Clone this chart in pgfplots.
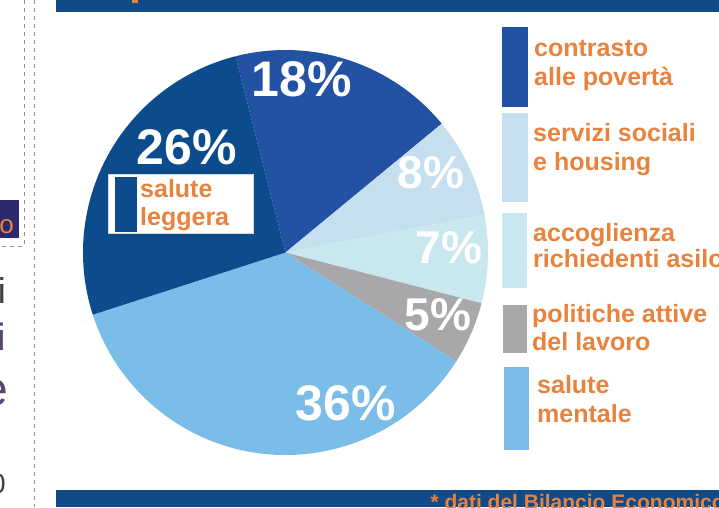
\documentclass[border=0pt]{standalone}
\usepackage{fontspec}
\setmainfont{Liberation Sans}
\usepackage{pgfplots}
\usepackage{pgfplotstable}
\pgfplotsset{compat=1.18}

\definecolor{barnavy}{HTML}{104A88}
\definecolor{c18}{HTML}{2352A5}
\definecolor{c8}{HTML}{C5DFEE}
\definecolor{c7}{HTML}{C9E7EF}
\definecolor{c5}{HTML}{A8A8AA}
\definecolor{c36}{HTML}{7BBDE9}
\definecolor{c26}{HTML}{0C4C8C}
\definecolor{txtor}{HTML}{E8823C}
\definecolor{boxnavy}{HTML}{2B2A6E}
\definecolor{purp}{HTML}{5A4672}
\definecolor{dashgr}{HTML}{8C8C8C}

% percentages, clockwise from the top
\pgfplotstableread{
pct col
18 c18
8 c8
7 c7
5 c5
36 c36
26 c26
}\piedata

\begin{document}
\begin{tikzpicture}
\useasboundingbox (0,0) rectangle (719pt,507pt);
\clip (0,0) rectangle (719pt,507pt);
\begin{axis}[hide axis, scale only axis, width=719pt, height=507pt,
  xmin=0, xmax=719, ymin=0, ymax=507, y dir=reverse, clip=false]

% header / footer bars
\fill[barnavy] (axis cs:56,0) rectangle (axis cs:719,12);
\fill[txtor] (axis cs:132,0) rectangle (axis cs:138,3);
\fill[barnavy] (axis cs:56,490) rectangle (axis cs:719,507);
\node[anchor=base west, text=txtor, font=\fontsize{21}{24}\selectfont\bfseries]
  at (axis cs:427,509) {* dati del Bilancio Economico};

% left page fragments
\draw[dashgr, dash pattern=on 4pt off 4pt] (axis cs:24,0) -- (axis cs:24,246) -- (axis cs:0,246);
\draw[dashgr, dash pattern=on 4pt off 4pt] (axis cs:34,0) -- (axis cs:34,507);
\fill[boxnavy] (axis cs:0,200) rectangle (axis cs:19,238);
\node[anchor=base east, inner sep=0pt, text=txtor, font=\fontsize{26}{28}\selectfont] at (axis cs:14,233) {o};
\node[anchor=base east, inner sep=0pt, text=black!75, font=\fontsize{36}{40}\selectfont] at (axis cs:6,303) {i};
\node[anchor=base east, inner sep=0pt, text=purp, font=\fontsize{38}{40}\selectfont] at (axis cs:6,350) {i};
\node[anchor=base east, inner sep=0pt, text=purp, font=\fontsize{48}{50}\selectfont] at (axis cs:8,405) {e};
\node[anchor=base east, inner sep=0pt, text=black!75, font=\fontsize{28}{32}\selectfont] at (axis cs:6,493) {0};

% pie
\pgfplotsextra{
  \xdef\curang{104.3}
  \pgfplotstablegetrowsof{\piedata}
  \pgfmathtruncatemacro\nr{\pgfplotsretval-1}
  \foreach \i in {0,...,\nr}{
    \pgfplotstablegetelem{\i}{pct}\of\piedata
    \pgfmathsetmacro\pctval{\pgfplotsretval}
    \pgfplotstablegetelem{\i}{col}\of\piedata
    \edef\slicecol{\pgfplotsretval}
    \pgfmathsetmacro\endang{\curang-3.6*\pctval}
    \fill[color=\slicecol] (axis cs:285.5,252.5) -- ++(\curang:202.5pt)
      arc[start angle=\curang, end angle=\endang, radius=202.5pt] -- cycle;
    \xdef\curang{\endang}
  }
}

% slice labels
\tikzset{pl/.style={anchor=base, inner sep=0pt, text=white, font=\fontsize{#1}{#1}\selectfont\bfseries}}
\node[pl=50] at (axis cs:301.5,96) {18\%};
\node[pl=50] at (axis cs:187,164) {26\%};
\node[pl=46] at (axis cs:431,188) {8\%};
\node[pl=46] at (axis cs:449,263) {7\%};
\node[pl=46] at (axis cs:438,330) {5\%};
\node[pl=50] at (axis cs:346,420) {36\%};

% inner label box
\fill[white] (axis cs:108,174) rectangle (axis cs:253,233);
\draw[black!15] (axis cs:108,174) rectangle (axis cs:253,233);
\fill[c26] (axis cs:115,177) rectangle (axis cs:137,232);
\tikzset{lt/.style={anchor=base west, inner sep=0pt, text=txtor, font=\fontsize{25}{28}\selectfont\bfseries}}
\node[lt] at (axis cs:140,197) {salute};
\node[lt] at (axis cs:140,225) {leggera};

% legend
\fill[c18] (axis cs:502,27) rectangle (axis cs:528,107);
\fill[c8] (axis cs:502,113) rectangle (axis cs:528,202);
\fill[c7] (axis cs:502,213) rectangle (axis cs:527,288);
\fill[c5] (axis cs:503,305) rectangle (axis cs:527,353);
\fill[c36] (axis cs:504,367) rectangle (axis cs:529,450);
\node[lt] at (axis cs:534,56) {contrasto};
\node[lt] at (axis cs:534,85) {alle povertà};
\node[lt] at (axis cs:533,141) {servizi sociali};
\node[lt] at (axis cs:533,170) {e housing};
\node[lt] at (axis cs:533,241) {accoglienza};
\node[lt] at (axis cs:533,267) {richiedenti asilo};
\node[lt] at (axis cs:532,322) {politiche attive};
\node[lt] at (axis cs:532,350) {del lavoro};
\node[lt] at (axis cs:537,393) {salute};
\node[lt] at (axis cs:537,422) {mentale};
\end{axis}
\end{tikzpicture}
\end{document}
